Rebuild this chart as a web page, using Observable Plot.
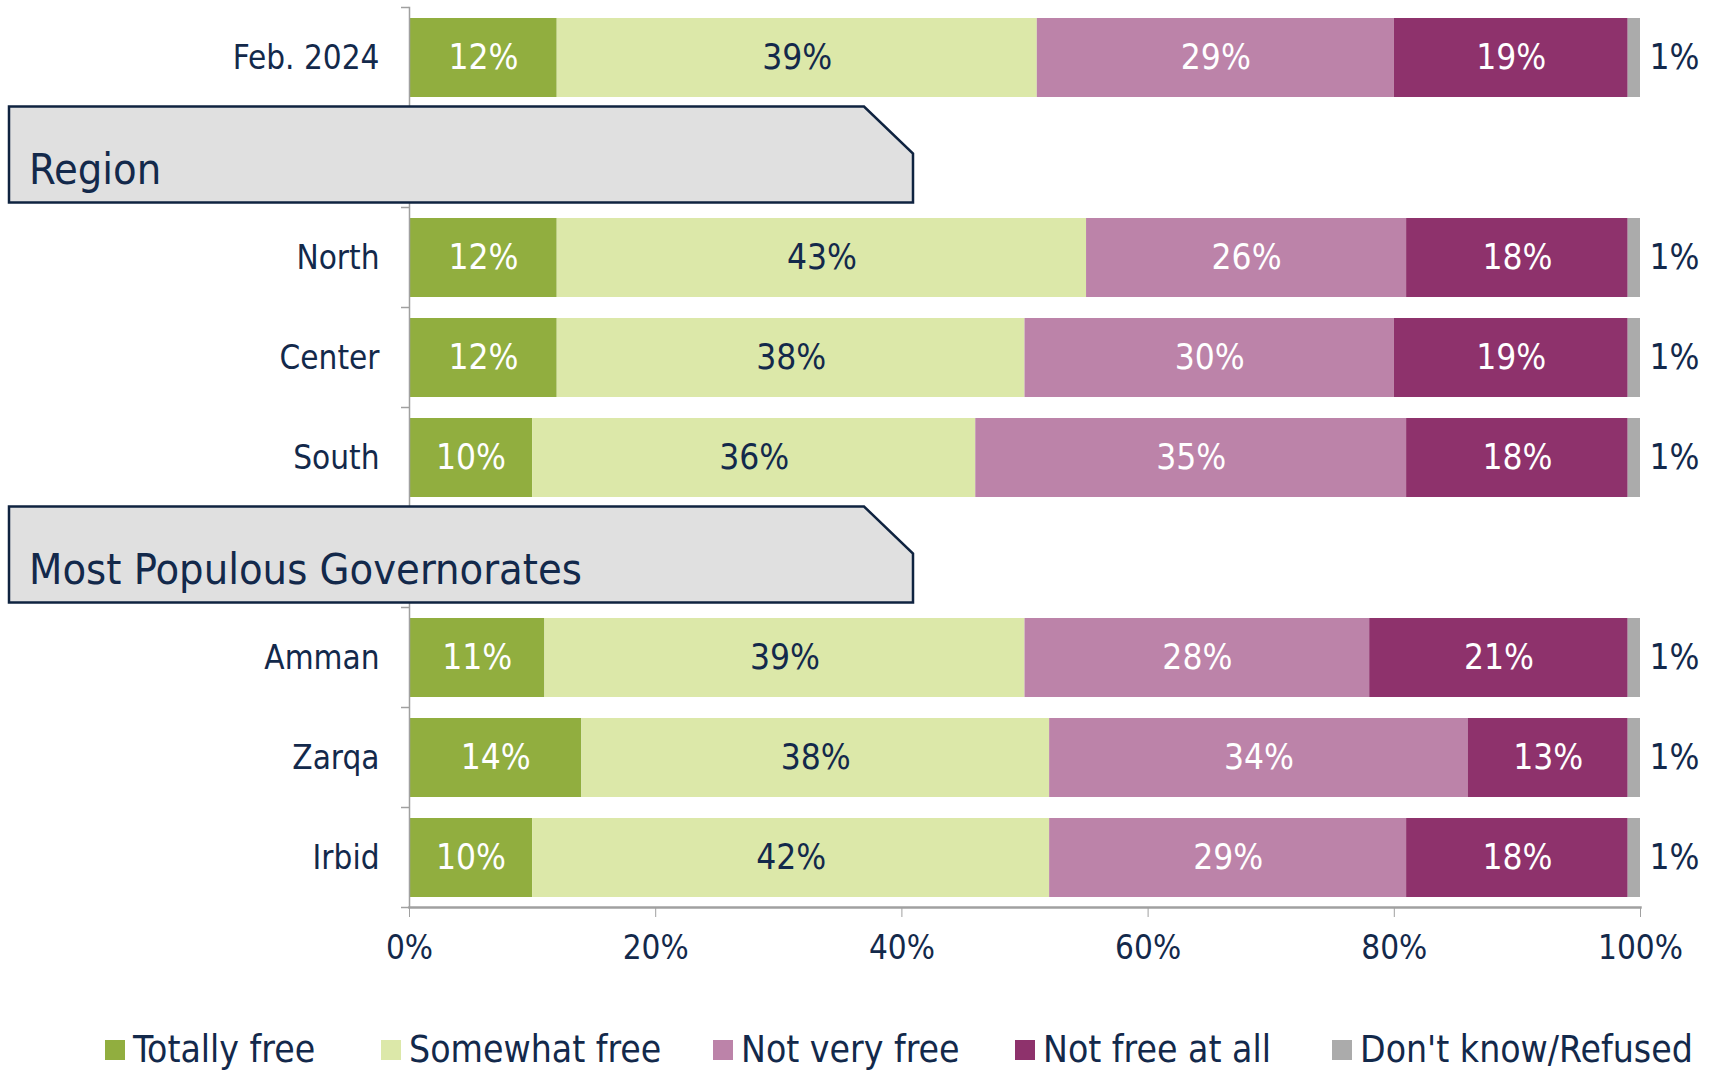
<!DOCTYPE html>
<html><head><meta charset="utf-8">
<script src="https://cdn.jsdelivr.net/npm/d3@7"></script>
<script src="https://cdn.jsdelivr.net/npm/@observablehq/plot@0.6"></script>
<style>
body{margin:0;background:#fff;font-family:"Liberation Sans Narrow","DejaVu Sans Condensed",sans-serif;}
#chart{position:relative;width:1714px;height:1071px;overflow:hidden;}
#legend{position:absolute;left:0;top:1028px;width:1714px;height:43px;}
.item{position:absolute;top:0;height:43px;display:flex;align-items:center;font-size:37px;color:#13294b;white-space:nowrap;}
.sw{width:20px;height:20px;margin-right:8px;flex:none;}
</style></head><body><div id="chart"><div id="legend"></div></div>
<script>
// ---- data ----
const rows = ["Feb. 2024","Region","North","Center","South","Most Populous Governorates","Amman","Zarqa","Irbid"];
const sections = ["Region","Most Populous Governorates"];
const barRows = ["Feb. 2024","North","Center","South","Amman","Zarqa","Irbid"];
const categories = ["Totally free","Somewhat free","Not very free","Not free at all","Don't know/Refused"];
const colors = ["#91ae3f","#dce8a9","#bc83a9","#8e326c","#ababab"];
const totallyFree  = [12,12,12,10,11,14,10];
const somewhatFree = [39,43,38,36,39,38,42];
const notVeryFree  = [29,26,30,35,28,34,29];
const notFreeAtAll = [19,18,19,18,21,13,18];
const dontKnow     = [1,1,1,1,1,1,1];
const xTicks = [0,20,40,60,80,100];

const navy = "#13294b";
const font = '"Liberation Sans Narrow","DejaVu Sans Condensed",sans-serif';
const series = [totallyFree, somewhatFree, notVeryFree, notFreeAtAll, dontKnow];
const data = [];
barRows.forEach((r,i) => categories.forEach((c,j) => data.push({row:r, cat:c, value:series[j][i]})));
const pct = d => d.value + "%";

const plot = Plot.plot({
  width:1714, height:1000,
  marginLeft:409, marginRight:74, marginTop:7, marginBottom:93,
  style:{fontFamily:font, background:"white", color:navy},
  x:{domain:[0,100], label:null},
  y:{domain:rows, paddingInner:0.21, paddingOuter:0.105, label:null},
  color:{domain:categories, range:colors},
  marks:[
    Plot.barX(data, Plot.stackX({x:"value", y:"row", fill:"cat", order:categories})),
    Plot.text(data, Plot.filter(d => d.cat===categories[1],
      Plot.stackX({x:"value", y:"row", z:"cat", order:categories, text:pct, fill:navy, fontSize:35}))),
    Plot.text(data, Plot.filter(d => d.cat===categories[0]||d.cat===categories[2]||d.cat===categories[3],
      Plot.stackX({x:"value", y:"row", z:"cat", order:categories, text:pct, fill:"white", fontSize:35}))),
    Plot.text(data.filter(d => d.cat===categories[4]), {x:100, y:"row", text:pct, dx:34, fill:navy, fontSize:35}),
    Plot.frame({anchor:"left", stroke:"#a0a0a0", strokeWidth:1.5}),
    Plot.frame({anchor:"bottom", stroke:"#a0a0a0", strokeWidth:2.5}),
    Plot.axisX({ticks:xTicks, tickFormat:d => d+"%", tickSize:10, tickPadding:18, fontSize:33, stroke:"#a0a0a0", fill:navy, label:null}),
    Plot.axisY({tickFormat:d => sections.includes(d) ? "" : d, tickSize:0, tickPadding:30, fontSize:33, fill:navy, label:null})
  ]
});
document.getElementById("chart").prepend(plot);

// band-boundary ticks on the y axis and section boxes, placed with the plot's scales
const svg = d3.select(plot);
const ys = plot.scale("y"), xs = plot.scale("x");
const gap = (ys.step - ys.bandwidth) / 2;
const x0 = xs.apply(0);
const bounds = rows.map(r => ys.apply(r) - gap).concat([ys.apply(rows[rows.length-1]) + ys.bandwidth + gap]);
svg.append("g").selectAll("line").data(bounds).join("line")
  .attr("x1", x0-8).attr("x2", x0).attr("y1", d=>d).attr("y2", d=>d)
  .attr("stroke","#a0a0a0").attr("stroke-width",1.5);
sections.forEach(s => {
  const top = ys.apply(s) - gap - 1;
  const h = 96, left = x0 - 400, right = x0 + 504, cut = x0 + 455;
  svg.append("path")
    .attr("d", `M${left},${top}H${cut}L${right},${top+47}V${top+h}H${left}Z`)
    .attr("fill","#e0e0e0").attr("stroke","#0f2340").attr("stroke-width",2.5);
  svg.append("text").attr("x", left+20).attr("y", top+77)
    .attr("text-anchor","start")
    .attr("font-size",43).attr("fill",navy).attr("font-family",font).text(s);
});

// legend
const lx = [105,381,713,1015,1332];
const legend = d3.select("#legend");
categories.forEach((c,i) => {
  const it = legend.append("div").attr("class","item").style("left", lx[i]+"px");
  it.append("div").attr("class","sw").style("background", colors[i]);
  it.append("span").text(c);
});
</script></body></html>
